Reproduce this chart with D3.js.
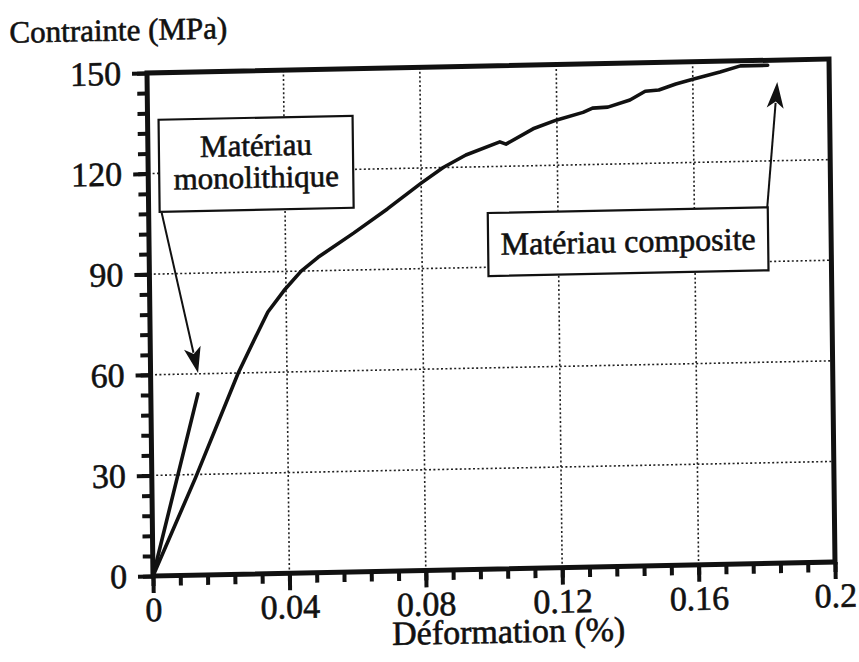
<!DOCTYPE html>
<html>
<head>
<meta charset="utf-8">
<script src="https://cdn.jsdelivr.net/npm/d3@7"></script>
<style>
  body { margin: 0; background: #fff; }
</style>
</head>
<body>
<svg id="chart" width="859" height="662"></svg>
<script>
// strain (%) vs stress (MPa)
var strainComposite = [0, 0.0128, 0.0257, 0.0296, 0.0346, 0.0394, 0.0445, 0.0495, 0.06, 0.07, 0.08, 0.0865, 0.0932, 0.1032, 0.105, 0.113, 0.12, 0.1277, 0.1305, 0.135, 0.1415, 0.146, 0.15, 0.155, 0.16, 0.168, 0.174, 0.182];
var stressComposite = [0, 29, 60, 68, 78, 84.3, 90, 94, 101, 108, 115.5, 120, 123.6, 127.3, 126.6, 131, 133.5, 135.6, 136.8, 137, 139, 141.5, 141.8, 143.5, 144.8, 146.8, 148.5, 148.5];
var strainMono = [0, 0.0138];
var stressMono = [0, 54];

var xTicks = [0, 0.04, 0.08, 0.12, 0.16, 0.2];
var xTickLabels = ["0", "0.04", "0.08", "0.12", "0.16", "0.2"];
var yTicks = [0, 30, 60, 90, 120, 150];
var yTickLabels = ["0", "30", "60", "90", "120", "150"];

var FONT = "'Liberation Serif', 'Times New Roman', serif";

var svg = d3.select("#chart"),
    margin = {top: 73, left: 147},
    width = 682,
    height = 503;

// the scan is slightly skewed
var page = svg.append("g").attr("transform", "matrix(1,-0.0205,0.0119,1,-0.87,3.01)");
var g = page.append("g").attr("transform", "translate(" + margin.left + "," + margin.top + ")");

var x = d3.scaleLinear().domain([0, 0.2]).range([0, width]);
var y = d3.scaleLinear().domain([0, 150]).range([height, 0]);

var minorX = d3.range(26).map(function(i) { return i * 0.008; });
var minorY = d3.range(26).map(function(i) { return i * 6; });

// grid
g.append("g").selectAll("line")
  .data(xTicks.slice(1, -1))
  .enter().append("line")
    .attr("x1", function(d) { return x(d); })
    .attr("x2", function(d) { return x(d); })
    .attr("y1", 0).attr("y2", height)
    .attr("stroke", "#222").attr("stroke-width", 1.6).attr("stroke-dasharray", "2,2.4");

g.append("g").selectAll("line")
  .data(yTicks.slice(1, -1))
  .enter().append("line")
    .attr("y1", function(d) { return y(d); })
    .attr("y2", function(d) { return y(d); })
    .attr("x1", 0).attr("x2", width)
    .attr("stroke", "#222").attr("stroke-width", 1.6).attr("stroke-dasharray", "2,2.4");

// axes
function styleAxis(sel) {
  sel.select(".domain").remove();
  sel.selectAll(".tick line").attr("stroke", "#111").attr("stroke-width", 4);
  sel.selectAll(".tick text")
    .style("font-family", FONT)
    .attr("font-size", 34)
    .attr("fill", "#111")
    .attr("stroke", "#111").attr("stroke-width", 0.6);
}

g.append("g")
  .attr("transform", "translate(0," + height + ")")
  .call(d3.axisBottom(x).tickValues(minorX).tickSize(10).tickFormat(""))
  .call(styleAxis);

g.append("g")
  .attr("transform", "translate(0," + height + ")")
  .call(d3.axisBottom(x).tickValues(xTicks).tickSize(17).tickPadding(4)
    .tickFormat(function(d, i) { return xTickLabels[i]; }))
  .call(styleAxis);

g.append("g")
  .call(d3.axisLeft(y).tickValues(minorY).tickSize(10).tickFormat(""))
  .call(styleAxis);

g.append("g")
  .call(d3.axisLeft(y).tickValues(yTicks).tickSize(15).tickPadding(11)
    .tickFormat(function(d, i) { return yTickLabels[i]; }))
  .call(styleAxis);

// frame
g.append("rect")
  .attr("x", 0).attr("y", 0)
  .attr("width", width).attr("height", height)
  .attr("fill", "none").attr("stroke", "#111").attr("stroke-width", 5);

// curves
var line = d3.line()
  .x(function(d) { return x(d[0]); })
  .y(function(d) { return y(d[1]); });

g.append("path")
  .datum(d3.zip(strainComposite, stressComposite))
  .attr("d", line)
  .attr("fill", "none").attr("stroke", "#111").attr("stroke-width", 3.6)
  .attr("stroke-linejoin", "round").attr("stroke-linecap", "round");

g.append("path")
  .datum(d3.zip(strainMono, stressMono))
  .attr("d", line)
  .attr("fill", "none").attr("stroke", "#111").attr("stroke-width", 3.6)
  .attr("stroke-linecap", "round");

// annotation boxes
function box(x0, y0, x1, y1) {
  g.append("rect")
    .attr("x", x0).attr("y", y0)
    .attr("width", x1 - x0).attr("height", y1 - y0)
    .attr("fill", "#fff").attr("stroke", "#111").attr("stroke-width", 2.2);
}
function label(cx, by, txt, size) {
  g.append("text")
    .attr("x", cx).attr("y", by)
    .attr("text-anchor", "middle")
    .style("font-family", FONT)
    .attr("font-size", size)
    .attr("fill", "#111")
    .attr("stroke", "#111").attr("stroke-width", 0.6)
    .text(txt);
}
function arrow(x0, y0, x1, y1) {
  var dx = x1 - x0, dy = y1 - y0, len = Math.sqrt(dx * dx + dy * dy);
  var ux = dx / len, uy = dy / len, hl = 26, hw = 8.5;
  g.append("line")
    .attr("x1", x0).attr("y1", y0)
    .attr("x2", x1 - ux * hl * 0.8).attr("y2", y1 - uy * hl * 0.8)
    .attr("stroke", "#111").attr("stroke-width", 2);
  var bx = x1 - ux * hl, by = y1 - uy * hl;
  g.append("path")
    .attr("d", "M" + x1 + "," + y1 +
      "L" + (bx - uy * hw) + "," + (by + ux * hw) +
      "L" + (x1 - ux * hl * 0.75) + "," + (y1 - uy * hl * 0.75) +
      "L" + (bx + uy * hw) + "," + (by - ux * hw) + "Z")
    .attr("fill", "#111");
}

box(11, 47, 205, 139);
label(108, 85, "Matériau", 31);
label(108, 117, "monolithique", 31);
arrow(13, 140, 47.5, 301);

box(339, 147, 619, 210);
label(479, 189, "Matériau composite", 32);
arrow(618.5, 147, 630, 22);

// axis titles
page.append("text")
  .attr("x", 10).attr("y", 40)
  .style("font-family", FONT)
  .attr("font-size", 31)
  .attr("fill", "#111")
  .attr("stroke", "#111").attr("stroke-width", 0.6)
  .text("Contrainte (MPa)");

page.append("text")
  .attr("x", margin.left + width / 2 + 14).attr("y", 650)
  .attr("text-anchor", "middle")
  .style("font-family", FONT)
  .attr("font-size", 34)
  .attr("fill", "#111")
  .attr("stroke", "#111").attr("stroke-width", 0.6)
  .text("Déformation (%)");
</script>
</body>
</html>
